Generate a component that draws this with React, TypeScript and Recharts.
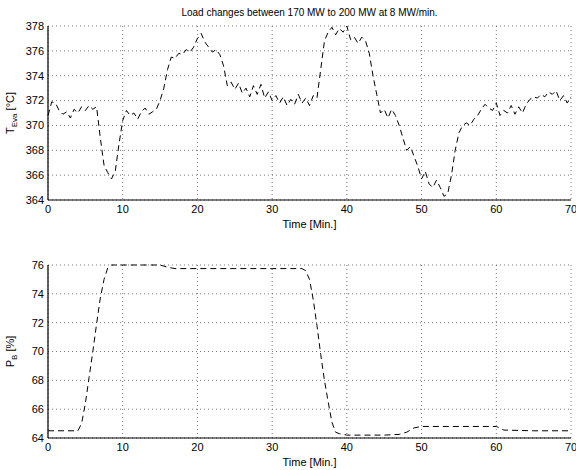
import React from "react";
import { LineChart, Line, XAxis, YAxis, CartesianGrid, Label } from "recharts";

const titleText = "Load changes between 170 MW to 200 MW at 8 MW/min.";
const xTicks = [0, 10, 20, 30, 40, 50, 60, 70];
const tempTicks = [364, 366, 368, 370, 372, 374, 376, 378];
const loadTicks = [64, 66, 68, 70, 72, 74, 76];

const tempTime = [
  0, 0.5, 1, 1.5, 2, 2.5, 3, 3.5, 4, 4.5, 5, 5.5, 6, 6.5, 7, 7.5, 8, 8.5, 9, 9.5,
  10, 10.5, 11, 11.5, 12, 12.5, 13, 13.5, 14, 14.5, 15, 15.5, 16, 16.5, 17, 17.5, 18, 18.5, 19, 19.5,
  20, 20.5, 21, 21.5, 22, 22.5, 23, 23.5, 24, 24.5, 25, 25.5, 26, 26.5, 27, 27.5, 28, 28.5, 29, 29.5,
  30, 30.5, 31, 31.5, 32, 32.5, 33, 33.5, 34, 34.5, 35, 35.5, 36, 36.5, 37, 37.5, 38, 38.5, 39, 39.5,
  40, 40.5, 41, 41.5, 42, 42.5, 43, 43.5, 44, 44.5, 45, 45.5, 46, 46.5, 47, 47.5, 48, 48.5, 49, 49.5,
  50, 50.5, 51, 51.5, 52, 52.5, 53, 53.5, 54, 54.5, 55, 55.5, 56, 56.5, 57, 57.5, 58, 58.5, 59, 59.5,
  60, 60.5, 61, 61.5, 62, 62.5, 63, 63.5, 64, 64.5, 65, 65.5, 66, 66.5, 67, 67.5, 68, 68.5, 69, 69.5, 70,
];
const tempValues = [
  370.8, 371.9, 371.8, 371.2, 370.9, 371.1, 370.6, 371.3, 371.0, 371.5, 371.2, 371.6, 371.3, 371.5, 369.0, 366.8, 366.2, 365.7, 366.3, 368.5,
  370.4, 371.2, 370.8, 371.0, 370.5, 371.1, 371.4, 370.9, 371.1, 371.3, 372.0, 373.0, 374.5, 375.5, 375.4, 375.8, 375.7, 376.1, 375.9, 376.3,
  377.0, 377.4, 376.7, 376.3, 375.9, 376.1, 375.7, 374.8, 373.2, 373.5, 372.9, 373.4, 372.6, 373.0, 372.3, 373.2, 372.5, 373.3, 372.2, 372.7,
  372.0, 372.4, 371.8, 372.3, 371.6, 372.1, 371.7, 372.5, 371.8, 372.2, 371.6, 372.4, 372.2, 374.5, 376.8, 377.5, 377.9, 377.3, 377.8, 377.5,
  378.0, 376.9, 377.1, 376.6, 377.1, 376.8, 375.8, 374.0, 372.5, 371.0, 371.3, 370.6, 371.3, 370.8, 370.0, 369.0, 368.0, 368.3, 367.5, 366.7,
  365.7, 366.3, 365.3, 365.0, 365.6, 365.0, 364.3, 364.5, 366.0, 368.0, 369.4, 370.0, 370.2, 370.0, 370.5, 370.8, 371.3, 371.7, 371.4, 371.2,
  371.8, 370.8, 371.2, 371.0, 371.6, 370.9, 371.5, 371.0, 371.7, 372.1, 372.3, 372.2, 372.5, 372.3, 372.7, 372.5, 372.8, 372.0, 372.4, 371.8, 372.3,
];

const loadTime = [
  0, 2, 4, 4.5, 5, 5.5, 6, 6.5, 7, 7.5, 8, 8.5, 9, 12, 15, 16, 17, 20, 25, 30, 34, 34.5, 35, 35.5, 36, 36.5, 37, 37.5, 38, 38.5, 39,
  40, 45, 47, 48, 49, 50, 55, 60, 61, 65, 70,
];
const loadValues = [
  64.5, 64.5, 64.5, 65.0, 66.4, 68.2, 70.0, 71.9, 73.7, 75.0, 75.8, 76.0, 76.0, 76.0, 76.0, 75.85, 75.75, 75.75, 75.75, 75.75, 75.75, 75.6, 75.0, 73.6, 71.8, 69.8, 68.0, 66.5, 65.1, 64.4, 64.3,
  64.2, 64.2, 64.25, 64.4, 64.7, 64.8, 64.8, 64.8, 64.55, 64.5, 64.5,
];

const tempData = tempTime.map((t, i) => ({ t, v: tempValues[i] }));
const loadData = loadTime.map((t, i) => ({ t, v: loadValues[i] }));

const FONT = "'Liberation Sans', Arial, sans-serif";
const tickStyle = { fontSize: 11, fill: "#000", fontFamily: FONT };

const YLabel = (props: any) => {
  const { viewBox, main, sub, unit } = props;
  const cx = 14;
  const cy = viewBox.y + viewBox.height / 2;
  return (
    <text
      transform={`translate(${cx},${cy}) rotate(-90)`}
      textAnchor="middle"
      fontSize={11}
      fontFamily={FONT}
      fill="#000"
    >
      <tspan>{main}</tspan>
      <tspan fontSize={8} dy={3}>{sub}</tspan>
      <tspan dy={-3}>{" " + unit}</tspan>
    </text>
  );
};

function Panel(props: {
  data: any[];
  domain: [number, number];
  yTicks: number[];
  height: number;
  top: number;
  main: string;
  sub: string;
  unit: string;
  title?: string;
}) {
  const { data, domain, yTicks, height, top, main, sub, unit, title } = props;
  return (
    <LineChart
      width={576}
      height={height}
      data={data}
      margin={{ top, right: 5, bottom: 4, left: 0 }}
    >
      <CartesianGrid stroke="#555" strokeDasharray="1 3" strokeWidth={0.8} />
      <XAxis
        dataKey="t"
        type="number"
        domain={[0, 70]}
        ticks={xTicks}
        tickLine={false}
        tickSize={0}
        tickMargin={5}
        tick={tickStyle}
        stroke="#000"
        strokeWidth={1.2}
        height={28}
        interval={0}
      >
        <Label
          value="Time [Min.]"
          position="insideBottom"
          offset={0}
          style={{ fontSize: 11, fontFamily: FONT, fill: "#000" }}
        />
      </XAxis>
      <XAxis
        xAxisId="top"
        dataKey="t"
        type="number"
        orientation="top"
        domain={[0, 70]}
        ticks={xTicks}
        mirror
        tick={false}
        tickSize={4}
        stroke="#000"
        strokeWidth={1.2}
        height={0}
      />
      <XAxis
        xAxisId="binner"
        dataKey="t"
        type="number"
        orientation="bottom"
        domain={[0, 70]}
        ticks={xTicks}
        mirror
        tick={false}
        tickSize={4}
        stroke="#000"
        axisLine={false}
        height={0}
      />
      <YAxis
        type="number"
        domain={domain}
        ticks={yTicks}
        tickLine={false}
        tickSize={0}
        tickMargin={4}
        tick={tickStyle}
        stroke="#000"
        strokeWidth={1.2}
        width={48}
        interval={0}
      >
        <Label content={<YLabel main={main} sub={sub} unit={unit} />} />
      </YAxis>
      <YAxis
        yAxisId="right"
        type="number"
        orientation="right"
        domain={domain}
        ticks={yTicks}
        mirror
        tick={false}
        tickSize={4}
        stroke="#000"
        strokeWidth={1.2}
        width={0}
      />
      <YAxis
        yAxisId="linner"
        type="number"
        orientation="left"
        domain={domain}
        ticks={yTicks}
        mirror
        tick={false}
        tickSize={4}
        stroke="#000"
        axisLine={false}
        width={0}
      />
      <Line
        dataKey="v"
        type="linear"
        stroke="#000"
        strokeWidth={1}
        strokeDasharray="6 4"
        dot={false}
        isAnimationActive={false}
      />
      {title ? (
        <text
          x={309.5}
          y={16}
          textAnchor="middle"
          fontSize={10}
          fontFamily={FONT}
          fill="#000"
        >
          {title}
        </text>
      ) : null}
    </LineChart>
  );
}

export default function App() {
  return (
    <div style={{ position: "absolute", left: 0, top: 0, width: 576, height: 470, background: "#fff" }}>
      <Panel
        data={tempData}
        domain={[364, 378]}
        yTicks={tempTicks}
        height={232}
        top={26}
        main="T"
        sub="Eva"
        unit="[°C]"
        title={titleText}
      />
      <Panel
        data={loadData}
        domain={[64, 76]}
        yTicks={loadTicks}
        height={238}
        top={33}
        main="P"
        sub="B"
        unit="[%]"
      />
    </div>
  );
}
